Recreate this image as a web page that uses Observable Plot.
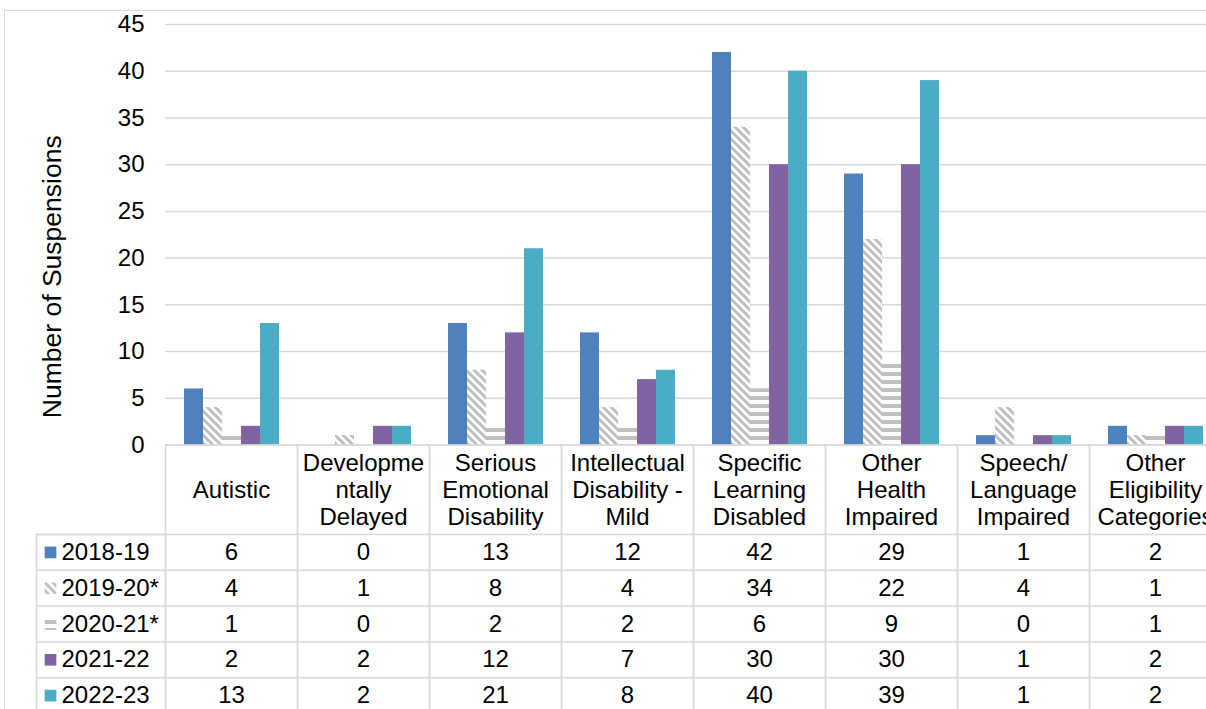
<!DOCTYPE html>
<html><head><meta charset="utf-8">
<script src="https://cdn.jsdelivr.net/npm/d3@7"></script>
<script src="https://cdn.jsdelivr.net/npm/@observablehq/plot@0.6"></script>
<style>
html,body{margin:0;padding:0;background:#fff;overflow:hidden;width:1206px;height:709px;}
#border{position:absolute;left:4px;top:10px;width:1400px;height:900px;border-left:1.5px solid #d9d9d9;border-top:1.5px solid #d9d9d9;}
#chart{position:absolute;left:0;top:0;}
</style></head><body>
<div id="border"></div><div id="chart"></div>
<script>
const categories = ["Autistic","Developmentally Delayed","Serious Emotional Disability","Intellectual Disability - Mild","Specific Learning Disabled","Other Health Impaired","Speech/Language Impaired","Other Eligibility Categories"];
const headerLabels = ["Autistic","Developme\nntally\nDelayed","Serious\nEmotional\nDisability","Intellectual\nDisability -\nMild","Specific\nLearning\nDisabled","Other\nHealth\nImpaired","Speech/\nLanguage\nImpaired","Other\nEligibility\nCategories"];
const series = ["2018-19","2019-20*","2020-21*","2021-22","2022-23"];
const v2018 = [6,0,13,12,42,29,1,2];
const v2019 = [4,1,8,4,34,22,4,1];
const v2020 = [1,0,2,2,6,9,0,1];
const v2021 = [2,2,12,7,30,30,1,2];
const v2022 = [13,2,21,8,40,39,1,2];
const yTicks = [0,5,10,15,20,25,30,35,40,45];
const colorRange = ["#4F81BD","url(#pat-diag)","url(#pat-horiz)","#8064A2","#4BACC6"];
const yTitle = "Number of Suspensions";

const seriesValues = [v2018, v2019, v2020, v2021, v2022];
const rows = categories.flatMap((c, j) => series.map((s, i) => ({category: c, series: s, value: seriesValues[i][j]})));
const first = categories[0];
const gridColor = "#d9d9d9";
const headerH = 89.5, rowH = 35.8;
const tableBottom = headerH + series.length * rowH;
const H = 709, mTop = 24, mBottom = 264.5;
const plotH = H - mTop - mBottom;

const plot = Plot.plot({
  width: 1206, height: H,
  marginLeft: 165, marginRight: 0, marginTop: mTop, marginBottom: mBottom,
  style: "font-family: 'Liberation Sans', Arial, sans-serif; font-size: 24px; background: transparent; color: #000;",
  fx: {domain: categories, range: [165, 1221], padding: 0, axis: null, label: null},
  x: {domain: series, paddingInner: 0, paddingOuter: 0.867, axis: null, label: null},
  y: {domain: [0, 45], label: null},
  color: {domain: series, range: colorRange},
  marks: [
    Plot.gridY({ticks: yTicks, stroke: gridColor, strokeOpacity: 1, strokeWidth: 1.5}),
    Plot.axisY({ticks: yTicks, tickSize: 0, tickPadding: 21, label: null}),
    Plot.barY(rows, {fx: "category", x: "series", y: "value", fill: "series"}),
    // table: column cells
    Plot.frame({stroke: gridColor, strokeWidth: 1.5, insetTop: plotH, insetBottom: -tableBottom}),
    ...series.map((s, i) => Plot.ruleY([0], {dy: headerH + rowH * i, stroke: gridColor, strokeWidth: 1.5})),
    // legend column lines
    ...series.map((s, i) => Plot.ruleY([0], {fx: () => first, dy: headerH + rowH * i, insetLeft: -129, insetRight: 132, stroke: gridColor, strokeWidth: 1.5})),
    Plot.frame({fx: () => first, stroke: gridColor, strokeWidth: 1.5, insetLeft: -129, insetRight: 132, insetTop: plotH + headerH, insetBottom: -tableBottom}),
    // header labels
    Plot.text(categories, {fx: d => d, text: (d, j) => headerLabels[j], frameAnchor: "bottom", dy: headerH / 2, lineAnchor: "middle", lineHeight: 1.125}),
    // values
    ...series.map((s, i) => Plot.text(rows.filter(r => r.series === s), {fx: "category", text: d => String(d.value), frameAnchor: "bottom", lineAnchor: "middle", dy: headerH + rowH * (i + 0.5)})),
    // legend keys
    ...series.map((s, i) => Plot.dot([s], {fx: () => first, frameAnchor: "bottom-left", symbol: "square", r: 6.6, fill: d => d, stroke: "none", dx: -115, dy: headerH + rowH * (i + 0.5)})),
    ...series.map((s, i) => Plot.text([s], {fx: () => first, text: d => d, frameAnchor: "bottom-left", textAnchor: "start", lineAnchor: "middle", dx: -104, dy: headerH + rowH * (i + 0.5)})),
    // y title
    Plot.text([yTitle], {fx: () => first, text: d => d, frameAnchor: "left", textAnchor: "middle", rotate: -90, lineAnchor: "middle", fontSize: 26.5, dx: -113, dy: 42})
  ]
});

const svg = d3.select(plot);
const defs = svg.insert("defs", ":first-child");
const diag = defs.append("pattern").attr("id", "pat-diag").attr("patternUnits", "userSpaceOnUse").attr("width", 8).attr("height", 8);
diag.append("rect").attr("width", 8).attr("height", 8).attr("fill", "#fff");
diag.append("path").attr("d", "M-2,-2L10,10M-2,6L2,10M6,-2L10,2").attr("stroke", "#bfbfbf").attr("stroke-width", 3).attr("fill", "none");
const horiz = defs.append("pattern").attr("id", "pat-horiz").attr("patternUnits", "userSpaceOnUse").attr("width", 8).attr("height", 8);
horiz.append("rect").attr("width", 8).attr("height", 8).attr("fill", "#fff");
horiz.append("rect").attr("y", 4).attr("width", 8).attr("height", 4).attr("fill", "#bfbfbf");

document.getElementById("chart").appendChild(plot);
</script></body></html>
